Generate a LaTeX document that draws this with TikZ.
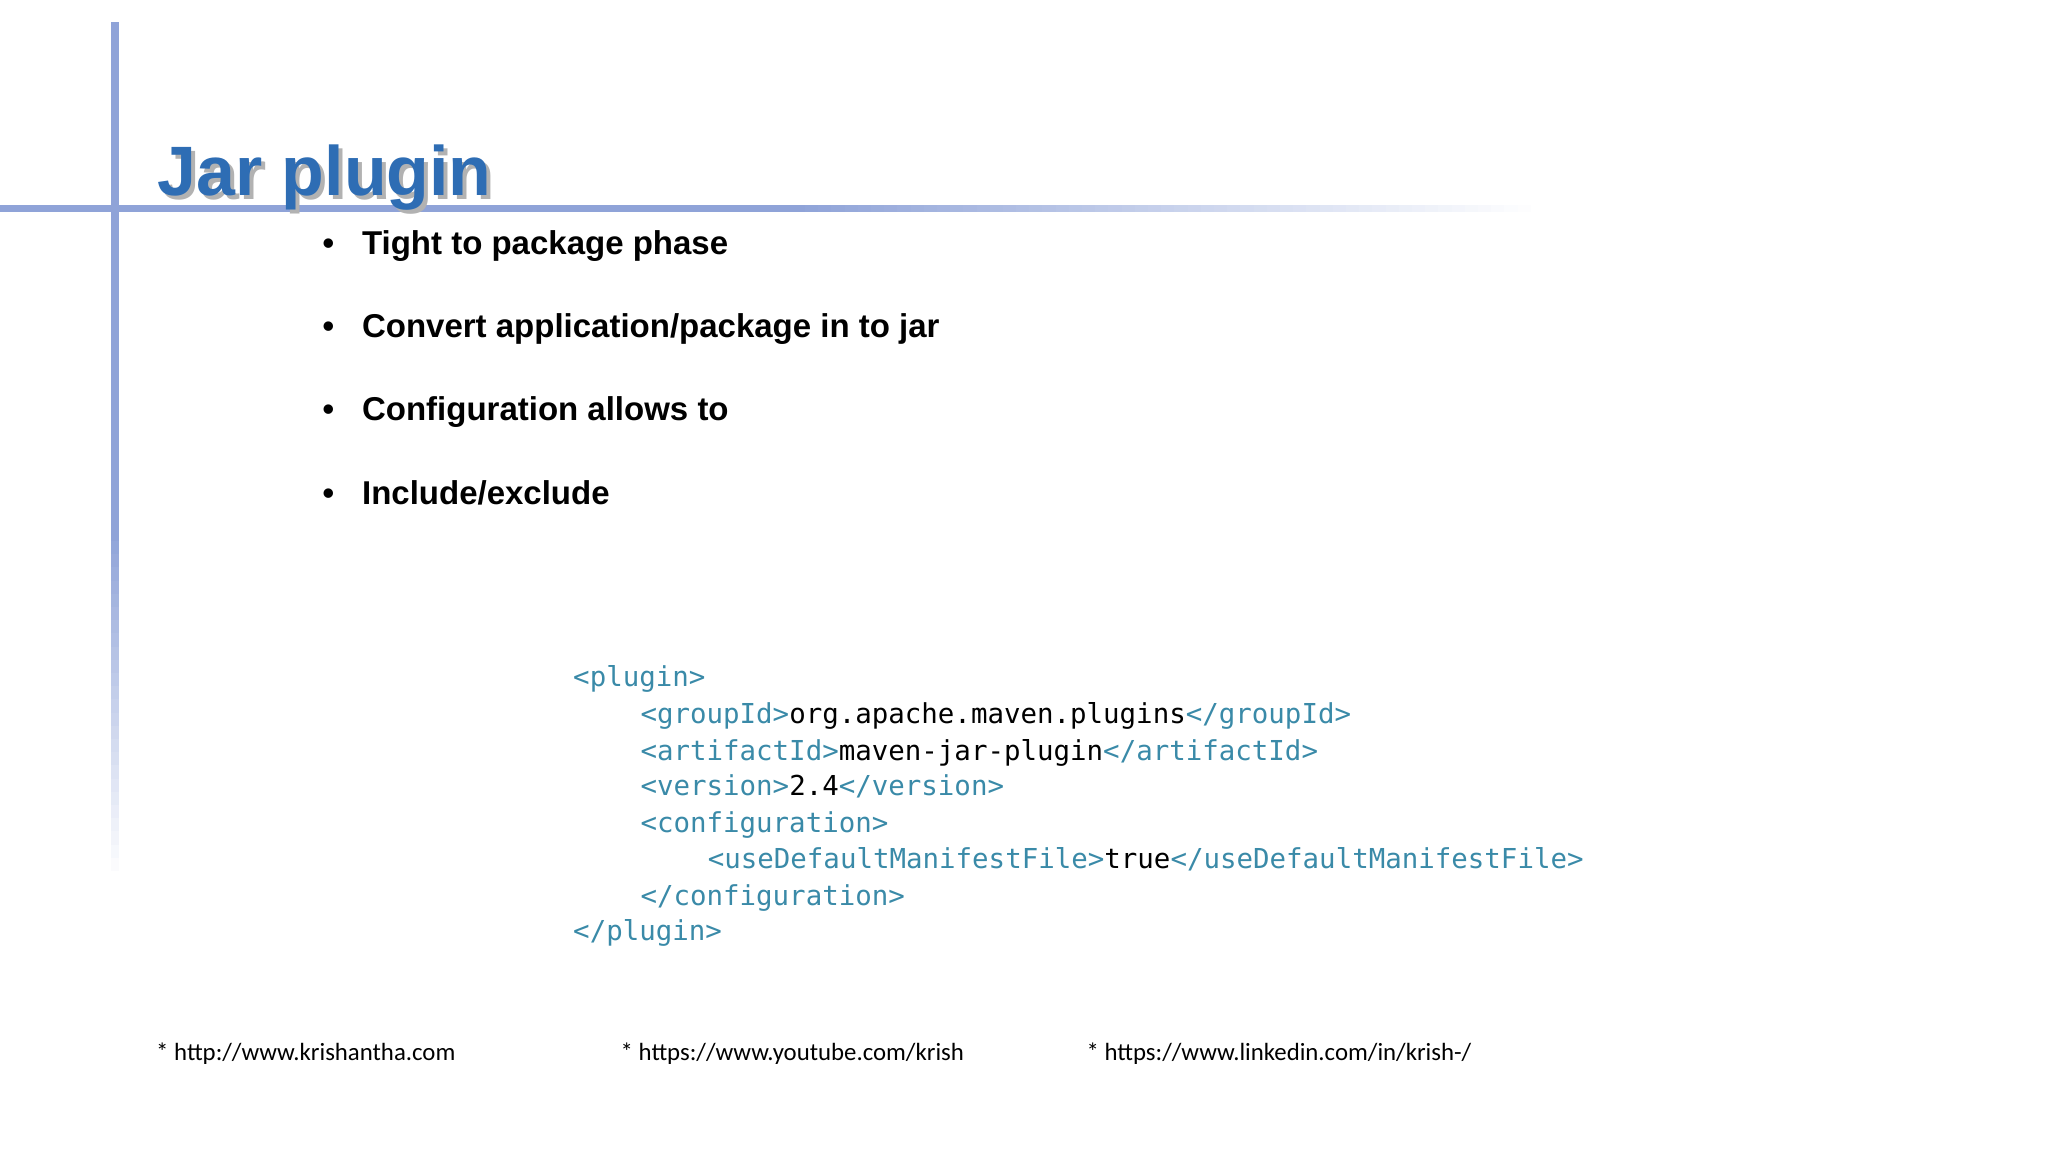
\documentclass[tikz,border=0pt]{standalone}
\usepackage{fontspec}
\setmainfont{Liberation Sans}
\newfontfamily\codefont{DejaVu Sans Mono}
\newfontfamily\footfont{Carlito}
\definecolor{linec}{HTML}{8FA3D8}
\definecolor{titlec}{HTML}{2E6DB4}
\definecolor{tagc}{HTML}{3A8AA8}
\begin{document}
\begin{tikzpicture}[x=0.5pt,y=-0.5pt]
\useasboundingbox (0,0) rectangle (1552,873);
\tikzset{
 bul/.style={anchor=base west,inner sep=0,font=\fontsize{12.5}{14}\selectfont\bfseries},
 code/.style={anchor=base west,inner sep=0,font=\codefont\fontsize{10.4}{12}\selectfont},
 foot/.style={anchor=base west,inner sep=0,font=\footfont\fontsize{9.4}{11}\selectfont}}
% lines
\fill[linec] (0,155) rectangle (600,161);
\foreach \k in {0,...,56}{
 \pgfmathsetmacro\p{100-\k*100/56}
 \fill[linec!\p!white] (600+\k*10,155) rectangle (611+\k*10,161);
}
\fill[linec] (84,17) rectangle (90,400);
\foreach \k in {0,...,26}{
 \pgfmathsetmacro\p{100-\k*100/26}
 \fill[linec!\p!white] (84,400+\k*10) rectangle (90,411+\k*10);
}
% title
\node[anchor=base west,inner sep=0,text=black!30,font=\fontsize{26.5}{30}\selectfont\bfseries] at (122,151) {Jar plugin};
\node[anchor=base west,inner sep=0,text=titlec,font=\fontsize{26.5}{30}\selectfont\bfseries] (title) at (119,148) {Jar plugin};
% bullets
\foreach \y/\t [count=\i] in {193/{Tight to package phase},256/{Convert application/package in to jar},319/{Configuration allows to},382/{Include/exclude}}{
 \node[bul] (bd\i) at (244,\y) {•};
 \node[bul] (b\i) at (274,\y) {\t};
}
% code
\node[code] (c1) at (434,520) {\textcolor{tagc}{<plugin>}};
\node[code] (c2) at (485,548) {\textcolor{tagc}{<groupId>}org.apache.maven.plugins\textcolor{tagc}{</groupId>}};
\node[code] (c3) at (485,576) {\textcolor{tagc}{<artifactId>}maven-jar-plugin\textcolor{tagc}{</artifactId>}};
\node[code] (c4) at (485,603) {\textcolor{tagc}{<version>}2.4\textcolor{tagc}{</version>}};
\node[code] (c5) at (485,631) {\textcolor{tagc}{<configuration>}};
\node[code] (c6) at (536,658) {\textcolor{tagc}{<useDefaultManifestFile>}true\textcolor{tagc}{</useDefaultManifestFile>}};
\node[code] (c7) at (485,686) {\textcolor{tagc}{</configuration>}};
\node[code] (c8) at (434,713) {\textcolor{tagc}{</plugin>}};
% footer
\node[foot] (f1) at (118,804) {* http://www.krishantha.com};
\node[foot] (f2) at (470,804) {* https://www.youtube.com/krish};
\node[foot] (f3) at (823,804) {* https://www.linkedin.com/in/krish-/};
\end{tikzpicture}
\end{document}
